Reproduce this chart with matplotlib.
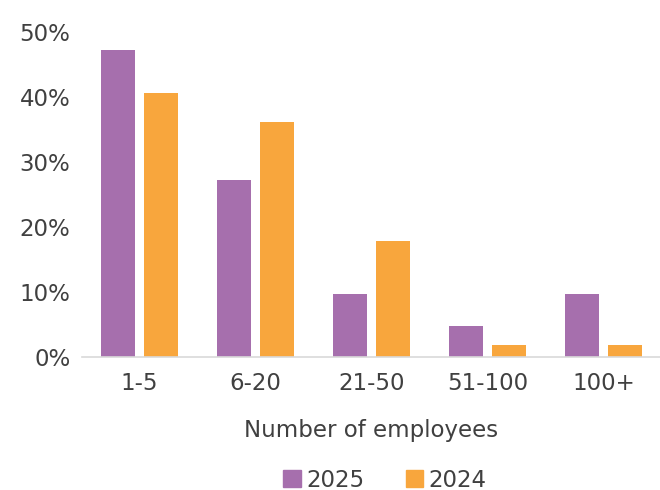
import numpy as np
import matplotlib
matplotlib.use("Agg")
import matplotlib.pyplot as plt
from matplotlib.patches import Patch
from matplotlib.ticker import PercentFormatter

# ==========================================================
# Data
# ==========================================================

categories = ["1-5", "6-20", "21-50", "51-100", "100+"]
share_2025 = [47.2, 27.2, 9.7, 4.8, 9.7]
share_2024 = [40.6, 36.1, 17.9, 1.8, 1.8]

PURPLE = "#a66fad"
ORANGE = "#f8a63d"
TEXT = "#404040"
FONT_SIZE = 16.5

plt.rcParams["font.family"] = ["DejaVu Sans"]

# ==========================================================
# Plot
# ==========================================================

fig = plt.figure(figsize=(6.6, 4.9), dpi=100)
ax = fig.add_axes([81.5 / 660, 133 / 490, 580 / 660, 325 / 490])

x = np.arange(len(categories))
width = 0.295
offset = 0.185

ax.bar(x - offset, share_2025, width=width, color=PURPLE, label="2025")
ax.bar(x + offset, share_2024, width=width, color=ORANGE, label="2024")

ax.set_xlim(-0.5, len(categories) - 0.5)
ax.set_ylim(0, 50)
ax.set_yticks([0, 10, 20, 30, 40, 50])
ax.yaxis.set_major_formatter(PercentFormatter(decimals=0))

ax.set_xticks(x)
ax.set_xticklabels(categories)

for side in ["top", "right", "left"]:
    ax.spines[side].set_visible(False)
ax.spines["bottom"].set_color("#d9d9d9")
ax.spines["bottom"].set_linewidth(1.2)

ax.tick_params(axis="both", length=0, labelsize=FONT_SIZE, colors=TEXT)
ax.tick_params(axis="y", pad=8)
ax.tick_params(axis="x", pad=11)

ax.set_xlabel("Number of employees", fontsize=FONT_SIZE, color=TEXT, labelpad=17)

handles = [Patch(color=PURPLE), Patch(color=ORANGE)]
fig.legend(
    handles,
    ["2025", "2024"],
    loc="center",
    bbox_to_anchor=(385 / 660, 1 - 480 / 490),
    ncol=2,
    frameon=False,
    fontsize=FONT_SIZE,
    handlelength=0.75,
    handleheight=0.75,
    handletextpad=0.25,
    columnspacing=1.8,
    labelcolor=TEXT,
)

plt.savefig("out.png", dpi=100)
plt.close()
